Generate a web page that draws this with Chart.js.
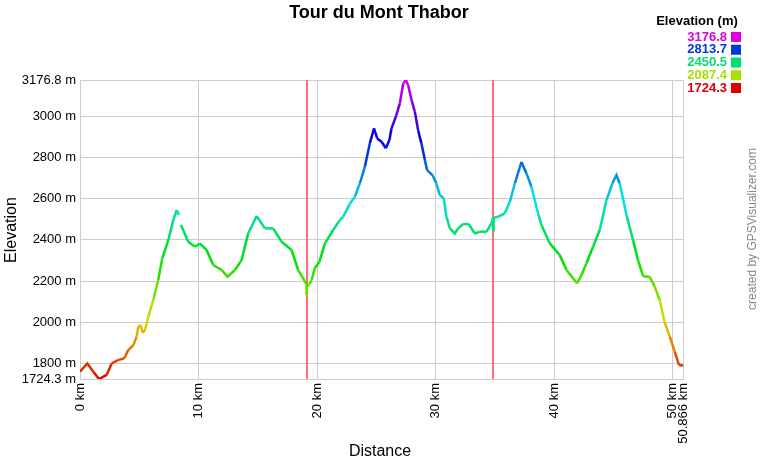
<!DOCTYPE html>
<html>
<head>
<meta charset="utf-8">
<script src="https://cdn.jsdelivr.net/npm/chart.js@4"></script>
<style>
  body { margin: 0; background: #fff; }
  #wrap { width: 760px; height: 460px; }
</style>
</head>
<body>
<div id="wrap"><canvas id="profile" width="760" height="460"></canvas></div>
<script>
// Track profile (km, m)
const distanceKm = [0, 0.62, 1.13, 1.6, 2.25, 2.67, 3.2, 3.74, 4.07, 4.5, 4.78, 4.92, 5.1, 5.28, 5.48, 5.76,
  6.18, 6.6, 6.94, 7.45, 7.87, 8.15, 8.35, 8.44, 8.52, 9.13, 9.7, 10.1, 10.68, 11.24, 11.95, 12.45, 13.07,
  13.63, 14.19, 14.9, 15.6, 16.3, 17.0, 17.85, 18.4, 19.1, 19.11, 19.14, 19.35, 19.54, 19.8, 20.2, 20.66,
  21.36, 21.92, 22.2, 22.77, 23.19, 23.6, 24.03, 24.45, 24.8, 25.07, 25.44, 25.8, 26.1, 26.28, 26.64, 26.98,
  27.26, 27.49, 27.68, 27.97, 28.25, 28.52, 28.8, 29.09, 29.28, 29.73, 30.07, 30.35, 30.69, 30.91, 31.2,
  31.62, 31.9, 32.32, 32.8, 33.3, 33.73, 34.3, 34.7, 34.86, 34.88, 34.9, 35.27, 35.83, 36.26, 36.68, 37.24,
  37.66, 38.08, 38.64, 38.93, 39.63, 40.47, 41.04, 41.6, 41.93, 42.3, 42.72, 43.28, 43.84, 44.41, 44.91,
  45.25, 45.53, 46.1, 46.65, 47.07, 47.5, 48.06, 48.48, 48.9, 49.3, 49.75, 50.17, 50.53, 50.866];
const elevationM = [1760, 1800, 1760, 1724, 1744, 1800, 1816, 1825, 1865, 1889, 1930, 1978, 1987, 1949, 1962, 2027,
  2108, 2205, 2310, 2399, 2496, 2545, 2521, null, 2472, 2391, 2367, 2383, 2351, 2278, 2254, 2221, 2254,
  2302, 2432, 2516, 2456, 2456, 2391, 2351, 2254, 2185, 2132, 2175, 2185, 2205, 2262, 2294, 2383,
  2448, 2496, 2512, 2577, 2610, 2674, 2755, 2869, 2942, 2893, 2877, 2845, 2885, 2942, 2998, 3063,
  3160, 3176, 3152, 3079, 3022, 2933, 2869, 2788, 2739, 2715, 2674, 2618, 2601, 2512, 2456,
  2431, 2456, 2477, 2477, 2431, 2440, 2440, 2480, 2508, 2440, 2508, 2512, 2529, 2585, 2674, 2779,
  2723, 2658, 2529, 2472, 2383, 2326, 2254, 2213, 2189, 2229, 2286, 2367, 2448, 2593, 2674,
  2715, 2674, 2521, 2399, 2302, 2224, 2221, 2173, 2108, 2003, 1930, 1857, 1792, 1790];

const elevMin = 1724.3;
const elevMax = 3176.8;
const totalKm = 50.866;
const yTicks = [1724.3, 1800, 2000, 2200, 2400, 2600, 2800, 3000, 3176.8];
const xTicks = [0, 10, 20, 30, 40, 50, 50.866];
const dayBreaksKm = [19.12, 34.88];
const legendValues = [3176.8, 2813.7, 2450.5, 2087.4, 1724.3];

const FONT = 'Arial, "Liberation Sans", sans-serif';

// red -> yellow -> green -> blue -> magenta
function elevColor(v) {
  let t = (v - elevMin) / (elevMax - elevMin);
  t = Math.max(0, Math.min(1, t));
  return `hsl(${Math.round(t * 300)}, 100%, 44%)`;
}

const points = distanceKm.map((d, i) => ({ x: d, y: elevationM[i] }));

const overlay = {
  id: 'overlay',
  beforeDatasetsDraw(chart) {
    const { ctx, chartArea, scales } = chart;
    ctx.save();
    ctx.strokeStyle = '#ff4040';
    ctx.lineWidth = 1.5;
    dayBreaksKm.forEach(km => {
      const x = Math.round(scales.x.getPixelForValue(km));
      ctx.beginPath();
      ctx.moveTo(x, chartArea.top);
      ctx.lineTo(x, chartArea.bottom);
      ctx.stroke();
    });
    ctx.restore();
  },
  afterDraw(chart) {
    const ctx = chart.ctx;
    ctx.save();
    ctx.fillStyle = '#000';
    ctx.textAlign = 'center';
    ctx.textBaseline = 'middle';
    ctx.font = 'bold 18px ' + FONT;
    ctx.fillText('Tour du Mont Thabor', 379, 13);

    ctx.font = '16px ' + FONT;
    ctx.fillText('Distance', 380, 452);
    ctx.save();
    ctx.translate(12, 230);
    ctx.rotate(-Math.PI / 2);
    ctx.fillText('Elevation', 0, 0);
    ctx.restore();

    ctx.save();
    ctx.fillStyle = '#888';
    ctx.font = '12px ' + FONT;
    ctx.translate(753, 229);
    ctx.rotate(-Math.PI / 2);
    ctx.fillText('created by GPSVisualizer.com', 0, 0);
    ctx.restore();

    // elevation legend
    ctx.font = 'bold 13px ' + FONT;
    ctx.fillStyle = '#000';
    ctx.fillText('Elevation (m)', 697, 21);
    ctx.textAlign = 'right';
    legendValues.forEach((v, i) => {
      const y = 37 + i * 12.75;
      ctx.fillStyle = elevColor(v);
      ctx.fillText(v.toFixed(1), 727, y);
      ctx.fillRect(731, y - 5, 10, 10);
    });
    ctx.restore();
  }
};

new Chart(document.getElementById('profile'), {
  type: 'line',
  data: {
    datasets: [{
      data: points,
      borderWidth: 2.5,
      pointRadius: 0,
      tension: 0,
      spanGaps: false,
      borderColor: '#0a0',
      segment: {
        borderColor: c => elevColor((c.p0.parsed.y + c.p1.parsed.y) / 2)
      }
    }]
  },
  options: {
    responsive: false,
    animation: false,
    events: [],
    layout: { padding: { top: 80, right: 77, left: 0, bottom: 0 } },
    plugins: { legend: { display: false }, tooltip: { enabled: false }, title: { display: false } },
    scales: {
      x: {
        type: 'linear',
        min: 0,
        max: totalKm,
        afterBuildTicks: s => { s.ticks = xTicks.map(v => ({ value: v })); },
        afterFit: s => { s.height = 81; },
        grid: { color: '#cccccc', drawTicks: false },
        border: { color: '#cccccc' },
        ticks: {
          autoSkip: false,
          minRotation: 90,
          maxRotation: 90,
          padding: 4,
          color: '#000',
          font: { family: FONT, size: 13 },
          callback: v => v + ' km'
        }
      },
      y: {
        min: elevMin,
        max: elevMax,
        afterBuildTicks: s => { s.ticks = yTicks.map(v => ({ value: v })); },
        afterFit: s => { s.width = 80; },
        grid: { color: '#cccccc', drawTicks: false },
        border: { color: '#cccccc' },
        ticks: {
          autoSkip: false,
          padding: 4,
          color: '#000',
          font: { family: FONT, size: 13 },
          callback: v => v + ' m'
        }
      }
    }
  },
  plugins: [overlay]
});
</script>
</body>
</html>
